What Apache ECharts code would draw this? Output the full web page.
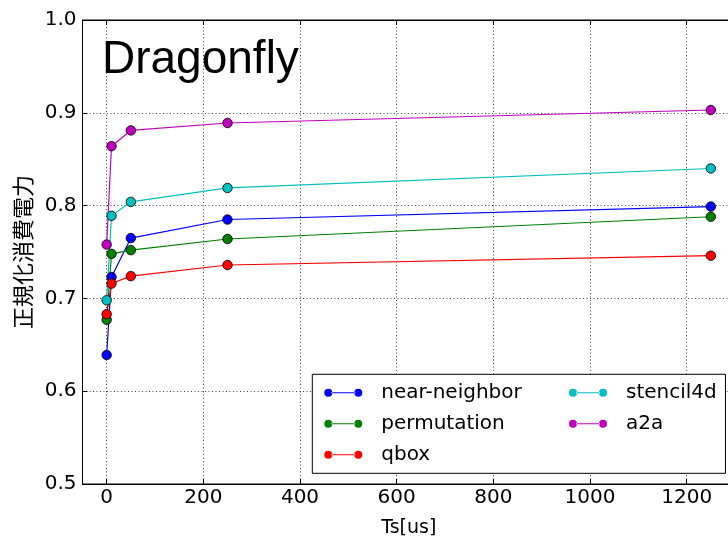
<!DOCTYPE html>
<html>
<head>
<meta charset="utf-8">
<title>Dragonfly</title>
<script src="https://cdn.jsdelivr.net/npm/echarts@6/dist/echarts.min.js"></script>
<style>
  html, body { margin: 0; padding: 0; background: #fff; }
  #chart { width: 728px; height: 536px; }
</style>
</head>
<body>
<div id="chart"></div>
<script>
// Ts[us] sample points shared by every series
const tsValues = [0, 10, 50, 250, 1250];

// normalized power per traffic pattern
const nearNeighbor = [0.639, 0.723, 0.765, 0.785, 0.799];
const permutation  = [0.677, 0.748, 0.752, 0.764, 0.788];
const qbox         = [0.683, 0.716, 0.724, 0.736, 0.746];
const stencil4d    = [0.698, 0.789, 0.804, 0.819, 0.840];
const a2a          = [0.758, 0.864, 0.881, 0.889, 0.903];

const xTicks = [0, 200, 400, 600, 800, 1000, 1200];

const seriesNames  = ['near-neighbor', 'permutation', 'qbox', 'stencil4d', 'a2a'];
const seriesValues = [nearNeighbor, permutation, qbox, stencil4d, a2a];
const seriesColors = ['#0000ff', '#008000', '#ff0000', '#00bfbf', '#bf00bf'];

const tickFont = 'DejaVu Sans';

// legend glyph: two dots joined by a thin line
const legendIcon = 'path://M0,5A4,4 0 1,0 8,5A4,4 0 1,0 0,5Z' +
  'M7,4.5L31,4.5L31,5.5L7,5.5Z' +
  'M30,5A4,4 0 1,0 38,5A4,4 0 1,0 30,5Z';

const gridLine = { show: true, lineStyle: { color: '#444', width: 1, type: [1, 2.5] } };

const chart = echarts.init(document.getElementById('chart'), null, { renderer: 'canvas' });

const legendCommon = {
  orient: 'vertical',
  icon: legendIcon,
  itemWidth: 38,
  itemHeight: 10,
  itemGap: 7,
  selectedMode: false,
  itemStyle: { borderWidth: 0 },
  textStyle: {
    fontFamily: tickFont,
    fontSize: 20,
    color: '#000',
    lineHeight: 24,
    padding: [0, 0, 0, 14]
  }
};

chart.setOption({
  animation: false,
  backgroundColor: '#fff',
  title: {
    text: 'Dragonfly',
    left: 102,
    top: 37,
    padding: 0,
    textStyle: { fontFamily: 'Liberation Sans', fontSize: 46, fontWeight: 'normal', color: '#000' }
  },
  grid: {
    left: 82.5,
    right: -7,
    top: 20,
    bottom: 52,
    containLabel: false,
    outerBoundsMode: 'none',
    show: true,
    borderColor: '#000',
    borderWidth: 1,
    backgroundColor: 'transparent'
  },
  legend: [
    Object.assign({}, legendCommon, {
      data: seriesNames.slice(0, 3),
      left: 312.3,
      top: 374.3,
      padding: [6.5, 203.7, 6.5, 12],
      borderColor: '#000',
      borderWidth: 1,
      borderRadius: 0,
      backgroundColor: '#fff'
    }),
    Object.assign({}, legendCommon, {
      data: seriesNames.slice(3),
      left: 569,
      top: 380.8,
      padding: 0
    })
  ],
  xAxis: [
    {
      type: 'value',
      min: -50,
      max: 1300,
      name: 'Ts[us]',
      nameLocation: 'middle',
      nameGap: 35,
      nameTextStyle: { fontFamily: tickFont, fontSize: 19, color: '#000' },
      axisLine: { show: true, onZero: false, lineStyle: { color: '#000', width: 1 } },
      axisTick: { show: true, inside: true, length: 5, lineStyle: { color: '#000' }, customValues: xTicks },
      axisLabel: {
        show: true,
        customValues: xTicks,
        margin: 4,
        fontFamily: tickFont,
        fontSize: 20,
        color: '#000',
        formatter: v => String(v)
      },
      splitLine: gridLine
    },
    {
      type: 'value',
      position: 'top',
      min: -50,
      max: 1300,
      axisLine: { show: true, onZero: false, lineStyle: { color: '#000', width: 1 } },
      axisTick: { show: true, inside: true, length: 5, lineStyle: { color: '#000' }, customValues: xTicks },
      axisLabel: { show: false },
      splitLine: { show: false }
    }
  ],
  yAxis: {
    type: 'value',
    min: 0.5,
    max: 1.0,
    interval: 0.1,
    name: '正規化消費電力',
    nameLocation: 'middle',
    nameGap: 47,
    nameTextStyle: { fontFamily: 'Noto Sans CJK JP', fontSize: 22, color: '#000' },
    axisLine: { show: true, onZero: false, lineStyle: { color: '#000', width: 1 } },
    axisTick: { show: true, inside: true, length: 5, lineStyle: { color: '#000' } },
    axisLabel: {
      margin: 6,
      fontFamily: tickFont,
      fontSize: 20,
      color: '#000',
      formatter: v => v.toFixed(1)
    },
    splitLine: gridLine
  },
  series: seriesNames.map((name, i) => ({
    name: name,
    type: 'line',
    xAxisIndex: 0,
    data: tsValues.map((t, k) => [t, seriesValues[i][k]]),
    color: seriesColors[i],
    symbol: 'circle',
    symbolSize: 9.5,
    showAllSymbol: true,
    lineStyle: { width: 1.2, color: seriesColors[i] },
    itemStyle: { color: seriesColors[i], borderColor: '#000', borderWidth: 0.8 },
    emphasis: { disabled: true }
  }))
});
</script>
</body>
</html>
